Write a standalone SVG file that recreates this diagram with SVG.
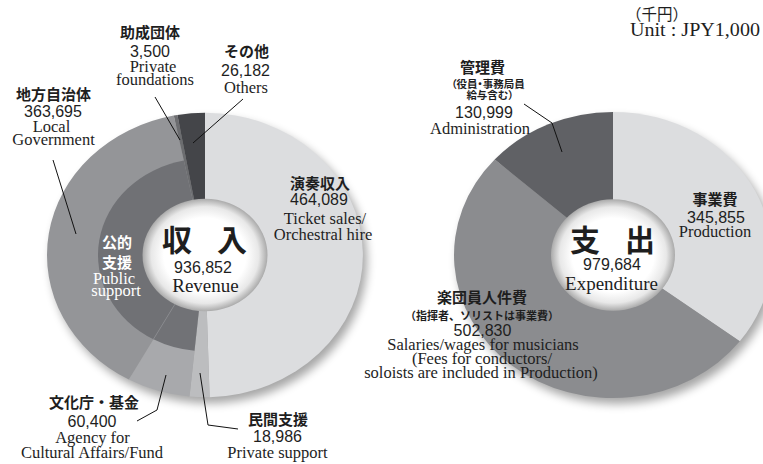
<svg xmlns="http://www.w3.org/2000/svg" width="763" height="464" viewBox="0 0 763 464">
<defs>
<filter id="blur" x="-20%" y="-20%" width="140%" height="140%">
<feGaussianBlur stdDeviation="5"/>
</filter>
<radialGradient id="hole" cx="0.5" cy="0.5" r="0.5">
<stop offset="0" stop-color="#ffffff"/>
<stop offset="0.66" stop-color="#ffffff"/>
<stop offset="0.86" stop-color="#e8e8e8"/>
<stop offset="1" stop-color="#aaaaaa"/>
</radialGradient>
</defs>
<style>
.jp{font-family:"Noto Sans CJK JP","Noto Sans CJK SC",sans-serif;font-weight:700;font-size:15px;fill:#1e1e1e;text-anchor:middle}
.note{font-size:10.5px;font-feature-settings:"palt"}
.note2{font-size:11px}
.num{font-family:"Liberation Sans",Arial,sans-serif;font-size:16px;fill:#1e1e1e;text-anchor:middle}
.en{font-family:"Liberation Serif","Times New Roman",serif;font-size:16.5px;fill:#1e1e1e;text-anchor:middle}
.big{font-size:30px}
.ctr{font-size:19px}
.wh{fill:#ffffff}
.shadow{fill:#000;opacity:0.35;filter:url(#blur)}
.lead{fill:none;stroke:#111;stroke-width:1}
</style>
<rect width="763" height="464" fill="#ffffff"/>

<!-- drop shadows -->
<ellipse class="shadow" cx="209" cy="261" rx="158" ry="142.2"/>
<ellipse class="shadow" cx="617" cy="261" rx="159" ry="143.1"/>

<!-- Revenue chart -->
<g id="ticket-sales">
<path transform="translate(205 255) scale(1 0.9)" d="M0,0 L0,-158 A158,158 0 0 1 4.60,157.93 Z" fill="#dcdddf"/>
<text class="jp" x="320" y="189">演奏収入</text>
<text class="num" x="319" y="205">464,089</text>
<text class="en" x="325" y="224">Ticket sales/</text>
<text class="en" x="323" y="240">Orchestral hire</text>
</g>
<g id="private-support">
<path transform="translate(205 255) scale(1 0.9)" d="M0,0 L4.60,157.93 A158,158 0 0 1 -15.50,157.24 Z" fill="#bcbdbf"/>
<text class="jp" x="278" y="425">民間支援</text>
<text class="num" x="277.5" y="442">18,986</text>
<text class="en" x="277.5" y="458">Private support</text>
</g>
<g id="agency">
<path transform="translate(205 255) scale(1 0.9)" d="M0,0 L-15.50,157.24 A158,158 0 0 1 -76.21,138.41 Z" fill="#a8a9ac"/>
<text class="jp" x="94" y="408">文化庁・基金</text>
<text class="num" x="92" y="427">60,400</text>
<text class="en" x="92.5" y="443">Agency for</text>
<text class="en" x="92" y="458">Cultural Affairs/Fund</text>
</g>
<g id="local-government">
<path transform="translate(205 255) scale(1 0.9)" d="M0,0 L-76.21,138.41 A158,158 0 0 1 -31.24,-154.88 Z" fill="#949598"/>
<text class="jp" x="53.5" y="100">地方自治体</text>
<text class="num" x="53" y="117">363,695</text>
<text class="en" x="51.5" y="132">Local</text>
<text class="en" x="53.5" y="145">Government</text>
</g>
<g id="private-foundations">
<path transform="translate(205 255) scale(1 0.9)" d="M0,0 L-31.24,-154.88 A158,158 0 0 1 -27.60,-155.57 Z" fill="#6c6d70"/>
<text class="jp" x="150" y="38">助成団体</text>
<text class="num" x="150" y="57">3,500</text>
<text class="en" x="153" y="72">Private</text>
<text class="en" x="155" y="85">foundations</text>
</g>
<g id="others">
<path transform="translate(205 255) scale(1 0.9)" d="M0,0 L-27.60,-155.57 A158,158 0 0 1 0,-158 Z" fill="#444549"/>
<text class="jp" x="246.5" y="57">その他</text>
<text class="num" x="245.5" y="76">26,182</text>
<text class="en" x="246" y="93">Others</text>
</g>
<g id="public-support">
<g transform="translate(205 255) scale(1 0.9)">
<path d="M0,0 L-10.49,106.48 A107,107 0 0 1 -51.61,93.73 Z" fill="#717276"/>
<path d="M0,0 L-51.61,93.73 A107,107 0 0 1 -21.16,-104.89 Z" fill="#707175"/>
<line x1="-30.2" y1="54.9" x2="-51.61" y2="93.73" stroke="#8e8f92" stroke-width="0.8"/>
</g>
<text class="jp wh" x="117" y="248">公的</text>
<text class="jp wh" x="117" y="268">支援</text>
<text class="en wh" x="114" y="284">Public</text>
<text class="en wh" x="116" y="296">support</text>
</g>
<g id="revenue-total">
<ellipse cx="205" cy="255" rx="62.5" ry="56.3" fill="url(#hole)"/>
<text class="jp big"><tspan x="177" y="251">収</tspan><tspan x="232" y="251">入</tspan></text>
<text class="num" x="203" y="273">936,852</text>
<text class="en ctr" x="205.5" y="292">Revenue</text>
</g>

<!-- Expenditure chart -->
<g id="production">
<path transform="translate(613 255) scale(1 0.9)" d="M0,0 L0,-159 A159,159 0 0 1 126.81,95.92 Z" fill="#dcdddf"/>
<text class="jp" x="715" y="205">事業費</text>
<text class="num" x="716" y="223">345,855</text>
<text class="en" x="715" y="237">Production</text>
</g>
<g id="musicians">
<path transform="translate(613 255) scale(1 0.9)" d="M0,0 L126.81,95.92 A159,159 0 1 1 -118.34,-106.19 Z" fill="#8b8c8f"/>
<text class="jp" x="482" y="303">楽団員人件費</text>
<text class="jp note2" x="482" y="320">（指揮者、ソリストは事業費）</text>
<text class="num" x="482.5" y="336">502,830</text>
<text class="en" x="483" y="350">Salaries/wages for musicians</text>
<text class="en" x="482" y="364">(Fees for conductors/</text>
<text class="en" x="481" y="378">soloists are included in Production)</text>
</g>
<g id="administration">
<path transform="translate(613 255) scale(1 0.9)" d="M0,0 L-118.34,-106.19 A159,159 0 0 1 0,-159 Z" fill="#606165"/>
<text class="jp" x="482.5" y="73">管理費</text>
<text class="jp note" x="488" y="88">（役員・事務局員</text>
<text class="jp note" x="490" y="99">給与含む）</text>
<text class="num" x="484" y="118">130,999</text>
<text class="en" x="480" y="134">Administration</text>
</g>
<g id="expenditure-total">
<ellipse cx="613" cy="255" rx="62" ry="55.8" fill="url(#hole)"/>
<text class="jp big"><tspan x="585" y="251">支</tspan><tspan x="640" y="251">出</tspan></text>
<text class="num" x="612" y="270">979,684</text>
<text class="en ctr" x="611.5" y="290">Expenditure</text>
</g>

<g id="unit">
<text x="626" y="20" style="font-family:'Noto Sans CJK JP','Noto Sans CJK SC',sans-serif;font-size:15.5px;fill:#1e1e1e">（千円）</text>
<text x="630" y="36" textLength="130" lengthAdjust="spacingAndGlyphs" style="font-family:'Liberation Serif','Times New Roman',serif;font-size:18px;fill:#1e1e1e">Unit : JPY1,000</text>
</g>

<g id="connectors">
<polyline class="lead" points="53,160 76,234"/>
<polyline class="lead" points="155,97 180,140"/>
<polyline class="lead" points="243,99 193,143"/>
<polyline class="lead" points="137,421 157,410 166,375"/>
<polyline class="lead" points="200,373 208,425 238,429"/>
<polyline class="lead" points="524,104 552,123 562,152"/>
</g>
</svg>
